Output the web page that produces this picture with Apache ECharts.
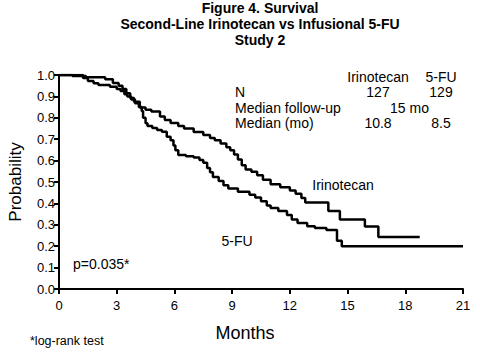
<!DOCTYPE html>
<html>
<head>
<meta charset="utf-8">
<script src="https://cdn.jsdelivr.net/npm/echarts@6/dist/echarts.min.js"></script>
<style>
html,body{margin:0;padding:0;background:#fff;}
#chart{width:480px;height:359px;}
</style>
</head>
<body>
<div id="chart"></div>
<script>
// Kaplan-Meier survival estimates [months, probability]
const irinotecan = [
  [0,1.0],[0.7,0.995],[1.4,0.99],[2.4,0.98],[2.8,0.963],[3.1,0.95],[3.3,0.935],[3.5,0.915],
  [3.7,0.893],[3.9,0.875],[4.2,0.848],[4.5,0.838],[4.8,0.83],[5.25,0.806],[5.5,0.79],[5.8,0.776],
  [6.2,0.762],[6.5,0.75],[7.0,0.734],[7.5,0.72],[7.85,0.706],[8.1,0.695],[8.4,0.68],[8.7,0.662],
  [8.9,0.648],[9.1,0.628],[9.3,0.605],[9.5,0.578],[9.7,0.558],[10.0,0.548],[10.3,0.532],[10.6,0.51],
  [11.0,0.49],[11.5,0.475],[12.0,0.46],[12.3,0.445],[12.6,0.425],[12.8,0.404],[14.0,0.365],
  [14.6,0.325],[15.9,0.292],[16.6,0.243],[18.75,0.243]
];
const fluorouracil = [
  [0,1.0],[1.25,0.986],[1.5,0.972],[1.8,0.962],[2.05,0.953],[2.65,0.945],[3.0,0.935],[3.2,0.925],
  [3.4,0.91],[3.55,0.9],[3.75,0.885],[3.95,0.868],[4.15,0.85],[4.3,0.832],[4.37,0.8],[4.5,0.775],
  [4.6,0.762],[4.85,0.752],[5.1,0.743],[5.35,0.735],[5.6,0.712],[5.8,0.695],[5.95,0.67],[6.05,0.648],
  [6.2,0.626],[6.6,0.62],[7.0,0.615],[7.3,0.603],[7.5,0.59],[7.7,0.565],[7.85,0.545],[8.0,0.523],
  [8.3,0.505],[8.55,0.485],[8.8,0.47],[9.3,0.455],[9.9,0.44],[10.2,0.428],[10.5,0.41],[10.8,0.39],
  [11.0,0.378],[11.4,0.365],[11.85,0.346],[12.1,0.325],[12.4,0.308],[12.9,0.293],[13.3,0.285],
  [13.9,0.276],[14.45,0.225],[14.7,0.2],[21,0.2]
];
const xTicks = [0,3,6,9,12,15,18,21];
const yTicks = [0.0,0.1,0.2,0.3,0.4,0.5,0.6,0.7,0.8,0.9,1.0];
const titleLines = ['Figure 4. Survival','Second-Line Irinotecan vs Infusional 5-FU','Study 2'];
const tableHeader = ['', 'Irinotecan', '5-FU'];
const tableRows = [
  ['N', '127', '129'],
  ['Median follow-up', '15 mo', null],
  ['Median (mo)', '10.8', '8.5']
];

const FONT = '"Liberation Sans", Arial, sans-serif';
const chart = echarts.init(document.getElementById('chart'), null, {renderer:'svg'});

const graphics = [];
const rowY = [77, 92, 107.5, 123];
const colX = [235, 378, 441];
function txt(x, y, s, size, align, extra, weight){
  graphics.push(Object.assign({
    type:'text', x:x, y:y,
    style:{text:s, fill:'#000', font: (weight ? weight + ' ' : '') + size + 'px ' + FONT,
           textAlign:align, textVerticalAlign:'middle'}
  }, extra || {}));
}
// title lines
const titleY = [8, 24, 40];
titleLines.forEach((s, i) => txt(260, titleY[i], s, 14, 'center', null, 'bold'));

txt(colX[1], rowY[0], tableHeader[1], 14, 'center');
txt(colX[2], rowY[0], tableHeader[2], 14, 'center');
tableRows.forEach((r, i) => {
  txt(colX[0], rowY[i+1], r[0], 14, 'left');
  if (r[2] === null) {
    txt((colX[1] + colX[2]) / 2, rowY[i+1], r[1], 14, 'center');
  } else {
    txt(colX[1], rowY[i+1], r[1], 14, 'center');
    txt(colX[2], rowY[i+1], r[2], 14, 'center');
  }
});
txt(343, 185, 'Irinotecan', 14, 'center');
txt(237, 241, '5-FU', 14, 'center');
txt(73, 264, 'p=0.035*', 14, 'left');
txt(30, 341, '*log-rank test', 12.5, 'left');
txt(245, 333, 'Months', 18, 'center');
txt(15, 182, 'Probability', 17, 'center', {rotation: Math.PI/2});

const option = {
  backgroundColor:'#fff',
  animation:false,
  grid:{left:59, right:17, top:75, bottom:70},
  xAxis:{
    type:'value', min:xTicks[0], max:xTicks[xTicks.length-1], interval:3,
    axisLine:{lineStyle:{color:'#000', width:2}},
    axisTick:{show:true, length:5, lineStyle:{color:'#000', width:2}},
    axisLabel:{color:'#000', fontFamily:FONT, fontSize:13, margin:10},
    splitLine:{show:false}
  },
  yAxis:{
    type:'value', min:yTicks[0], max:yTicks[yTicks.length-1], interval:0.1,
    axisLine:{show:true, lineStyle:{color:'#000', width:2}},
    axisTick:{show:true, length:5, lineStyle:{color:'#000', width:2}},
    axisLabel:{color:'#000', fontFamily:FONT, fontSize:13, margin:4,
      formatter: v => v.toFixed(1)},
    splitLine:{show:false}
  },
  series:[
    {name:'Irinotecan', type:'line', step:'end', data:irinotecan, showSymbol:false,
     lineStyle:{color:'#000', width:2.5}},
    {name:'5-FU', type:'line', step:'end', data:fluorouracil, showSymbol:false,
     lineStyle:{color:'#000', width:2.5}}
  ],
  graphic: graphics
};
chart.setOption(option);
</script>
</body>
</html>
